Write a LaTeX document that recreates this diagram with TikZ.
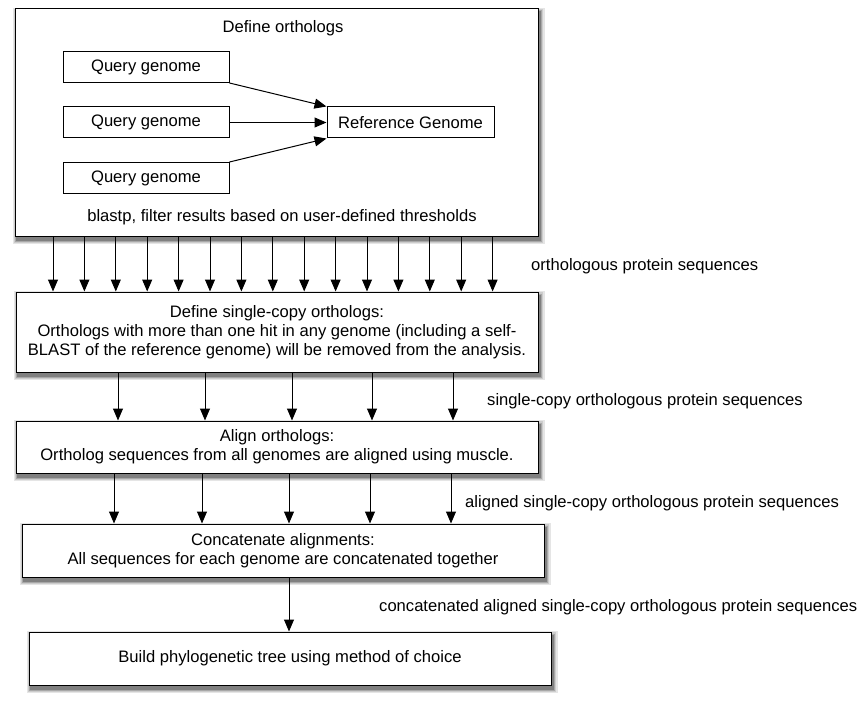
\documentclass[tikz,border=0pt]{standalone}
\usepackage{fontspec}
\setmainfont{Liberation Sans}
\usetikzlibrary{arrows.meta}
\pgfdeclarelayer{background}
\pgfsetlayers{background,main}

\begin{document}
\begin{tikzpicture}[x=1pt,y=-1pt,font=\fontsize{16.6}{19}\selectfont,
    box/.style = {rectangle,draw=black,line width=1pt,fill=white,align=center,inner sep=0pt,minimum width=522pt},
    qbox/.style = {rectangle,draw=black,line width=1pt,fill=white,inner sep=0pt,minimum width=166pt,minimum height=31pt},
    flow/.style = {-{Triangle[length=12pt,width=10pt]},line width=1pt},
    lbl/.style = {anchor=west,inner sep=0pt}]
\useasboundingbox (0,0) rectangle (859,706);
\node[box,minimum width=523pt,minimum height=227pt] (define) at (276.5,122.5) {};
\node (deftitle) at (283,28) {Define orthologs};
\node (defnote) at (282,217) {blastp, filter results based on user-defined thresholds};
\foreach \n/\y in {qa/67, qb/122.5, qc/178}
    \node[qbox] (\n) at (146,\y) {Query genome};
\node[qbox,minimum width=167pt] (refg) at (410.5,122.5) {Reference Genome};
\draw[flow] (qa.south east) -- (refg.north west);
\draw[flow] (qb.east) -- (refg.west);
\draw[flow] (qc.north east) -- (refg.south west);
\node[box,minimum height=80pt] (single) at (277,332) {Define single-copy orthologs:\\
    Orthologs with more than one hit in any genome (including a self-\\
    BLAST of the reference genome) will be removed from the analysis.};
\node[box,minimum height=52pt] (align) at (277,447) {Align orthologs:\\
    Ortholog sequences from all genomes are aligned using muscle.};
\node[box,minimum height=53pt] (concat) at (283,550.5) {Concatenate alignments:\\
    All sequences for each genome are concatenated together};
\node[box,minimum height=53pt] (tree) at (290,658.5) {Build phylogenetic tree using method of choice};
\begin{pgfonlayer}{background}
\foreach \b in {define,single,align,concat,tree}
    \foreach \w/\g in {8/10, 5.5/20, 3/34, 1/50}
        \filldraw[line width=\w pt,draw=black!\g,fill=black!\g]
            ([shift={(2,3.5)}]\b.north west) rectangle ([shift={(2,3.5)}]\b.south east);
\end{pgfonlayer}
\foreach \x in {53,84.4,...,493}
    \draw[flow] (define.south -| \x,0) -- (single.north -| \x,0);
\foreach \x in {118,205,292,372,453}
    \draw[flow] (single.south -| \x,0) -- (align.north -| \x,0);
\foreach \x in {114,202,289,370,451}
    \draw[flow] (align.south -| \x,0) -- (concat.north -| \x,0);
\draw[flow] (concat.south -| 289,0) -- (tree.north -| 289,0);
\node[lbl] (orthlbl) at (531,266) {orthologous protein sequences};
\node[lbl] (singlelbl) at (487,401) {single-copy orthologous protein sequences};
\node[lbl] (alignlbl) at (465,503) {aligned single-copy orthologous protein sequences};
\node[lbl] (concatlbl) at (379,607) {concatenated aligned single-copy orthologous protein sequences};
\end{tikzpicture}
\end{document}
